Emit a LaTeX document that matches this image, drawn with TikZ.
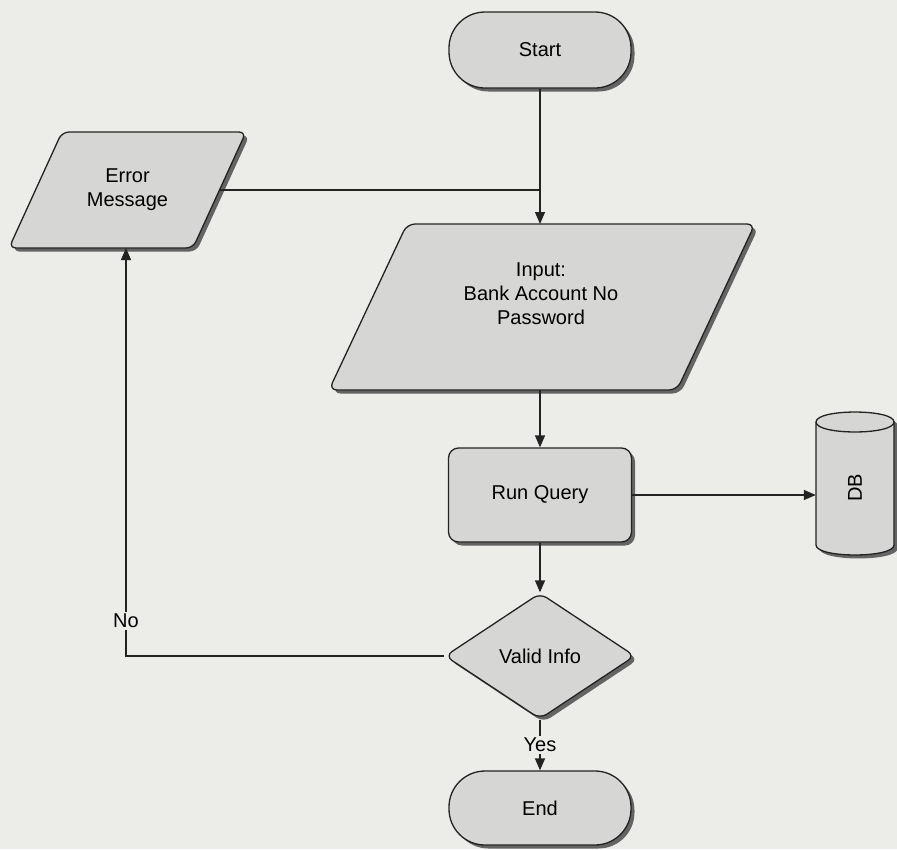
\documentclass[tikz,border=0pt]{standalone}
\usepackage{fontspec}
\setmainfont{Liberation Sans}
\usetikzlibrary{arrows.meta,shapes.geometric,shadows}
\definecolor{pagecol}{RGB}{236,236,233}
\definecolor{boxfill}{RGB}{214,214,212}
\definecolor{shadowcol}{RGB}{100,100,100}
\definecolor{linecol}{RGB}{35,35,35}
\begin{document}
\begin{tikzpicture}[x=1pt,y=-1pt,
  dshadow/.style={drop shadow={shadow xshift=3.5pt,shadow yshift=-3.5pt,fill=shadowcol,opacity=1}},
  box/.style={draw=linecol, line width=1.3pt, fill=boxfill, dshadow},
  txt/.style={font=\fontsize{20}{24}\selectfont, align=center, text=black},
  terminal/.style={box, txt, rectangle, rounded corners=36pt, minimum width=182pt, minimum height=76pt},
  process/.style={box, txt, rectangle, rounded corners=10pt, minimum width=183pt, minimum height=94pt},
  decision/.style={box, txt, diamond, rounded corners=8pt, minimum width=190pt, minimum height=126pt, inner sep=0pt},
  conn/.style={draw=linecol, line width=1.3pt},
  arr/.style={conn, -{Triangle[length=12pt,width=10pt]}},
  lbl/.style={txt, fill=pagecol, inner sep=2pt}
]
\fill[pagecol] (0,0) rectangle (897,849);
\useasboundingbox (0,0) rectangle (897,849);

% terminals and process
\node[terminal] (start) at (540,50) {Start};
\node[process] (run) at (540,495) {Run Query};
\node[decision] (valid) at (540,656) {Valid Info};
\node[terminal, minimum height=74pt] (end) at (540,808) {End};

% Error Message parallelogram
\path[box, rounded corners=7pt] (62,132) -- (246,132) -- (193,248) -- (9,248) -- cycle;
\node[txt] (err) at (127.5,190) {Error\\Message};
\coordinate (errR) at (220,190);
\coordinate (errB) at (126,248);

% Input parallelogram
\path[box, rounded corners=8pt] (407,224) -- (755,224) -- (677,390) -- (329,390) -- cycle;
\node[txt] (inp) at (541,294) {Input:\\Bank Account No\\Password};
\coordinate (inT) at (540,224);
\coordinate (inB) at (540,390);

% DB cylinder
\node[minimum width=78pt, minimum height=143pt, inner sep=0pt] (db) at (855,483) {};
\path[box] (816,422) -- (816,545) .. controls (816,558.3) and (894,558.3) .. (894,545)
  -- (894,422) .. controls (894,408.7) and (816,408.7) .. (816,422) -- cycle;
\draw[conn] (816,422) .. controls (816,435.3) and (894,435.3) .. (894,422);
\node[txt, rotate=90] (dbtext) at (855,488) {DB};

% connectors
\draw[arr] (start.south) -- (inT);
\draw[conn] (errR) -- (errR -| start.south);
\draw[arr] (inB) -- (run.north);
\draw[arr] (run.east) -- (run.east -| db.west);
\draw[arr] (run.south) -- (valid.north);
\draw[arr] (valid.west) -| node[lbl, pos=0.543] (no) {No} (errB);
\draw[arr] (valid.south) -- node[lbl] (yes) {Yes} (end.north);
\end{tikzpicture}
\end{document}
